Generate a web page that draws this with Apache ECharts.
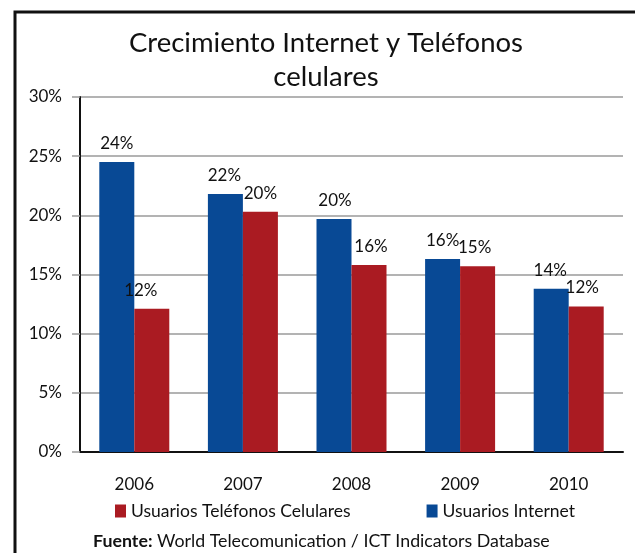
<!DOCTYPE html>
<html>
<head>
<meta charset="utf-8">
<script src="https://cdn.jsdelivr.net/npm/echarts@6/dist/echarts.min.js"></script>
<style>html,body{margin:0;padding:0;background:#fff;}#c{width:635px;height:553px;}</style>
</head>
<body>
<div id="c"></div>
<script>
const categories = ['2006', '2007', '2008', '2009', '2010'];
const internetValues = [24.5, 21.8, 19.7, 16.3, 13.8];
const internetLabels = ['24%', '22%', '20%', '16%', '14%'];
const celularValues = [12.1, 20.3, 15.8, 15.7, 12.3];
const celularLabels = ['12%', '20%', '16%', '15%', '12%'];
const yTicks = [0, 5, 10, 15, 20, 25, 30];

const FONT = 'Lato';
const chart = echarts.init(document.getElementById('c'));

function makeData(values, labels, shifts) {
  return values.map((v, i) => ({
    value: v,
    label: { formatter: labels[i], offset: [shifts[i], 0] }
  }));
}

chart.setOption({
  animation: false,
  textStyle: { fontFamily: FONT },
  title: [
    {
      text: 'Crecimiento Internet y Teléfonos\ncelulares',
      left: 321, top: 21, textAlign: 'center',
      textStyle: { fontFamily: FONT, fontSize: 27.5, fontWeight: 'normal', color: '#111', lineHeight: 34 }
    },
    {
      text: '{b|Fuente:} World Telecomunication / ICT Indicators Database',
      left: 88, top: 527,
      textStyle: {
        fontFamily: FONT, fontSize: 17.8, fontWeight: 'normal', color: '#111',
        rich: { b: { fontFamily: FONT, fontSize: 17.8, fontWeight: 'bold', color: '#111' } }
      }
    }
  ],
  graphic: [{
    type: 'rect', silent: true,
    shape: { x: 15, y: 12, width: 640, height: 620 },
    style: { fill: 'none', stroke: '#111', lineWidth: 3 }
  }],
  legend: {
    data: ['Usuarios Teléfonos Celulares', 'Usuarios Internet'],
    left: 110, top: 497,
    icon: 'rect', itemWidth: 11, itemHeight: 13, itemGap: 76, itemTextGap: 6,
    textStyle: { fontFamily: FONT, fontSize: 17.5, color: '#111' }
  },
  grid: { left: 80, right: 12, top: 97, bottom: 101, containLabel: false },
  xAxis: {
    type: 'category', data: categories,
    axisLine: { lineStyle: { color: '#111', width: 2 } },
    axisTick: { show: false },
    axisLabel: { margin: 24, fontFamily: FONT, fontSize: 17, color: '#111' }
  },
  yAxis: {
    type: 'value', min: yTicks[0], max: yTicks[yTicks.length - 1], interval: 5,
    axisLine: { show: true, lineStyle: { color: '#111', width: 2 } },
    axisTick: { show: true, length: 8, lineStyle: { color: '#999', width: 1.5 } },
    splitLine: { lineStyle: { color: '#9a9a9a', width: 1.5 } },
    axisLabel: { formatter: '{value}%', margin: 18, fontFamily: FONT, fontSize: 17, color: '#111' }
  },
  series: [
    {
      name: 'Usuarios Internet', type: 'bar',
      data: makeData(internetValues, internetLabels, [0, -1, 1, 0, -1]),
      barWidth: 35, barGap: '0%',
      itemStyle: { color: '#084995' },
      label: { show: true, position: 'top', distance: 10, fontFamily: FONT, fontSize: 17, color: '#111' }
    },
    {
      name: 'Usuarios Teléfonos Celulares', type: 'bar',
      data: makeData(celularValues, celularLabels, [-11, 0, 2, -3, -4]),
      barWidth: 35, barGap: '0%',
      itemStyle: { color: '#aa1b22' },
      label: { show: true, position: 'top', distance: 10, fontFamily: FONT, fontSize: 17, color: '#111' }
    }
  ]
});
</script>
</body>
</html>
